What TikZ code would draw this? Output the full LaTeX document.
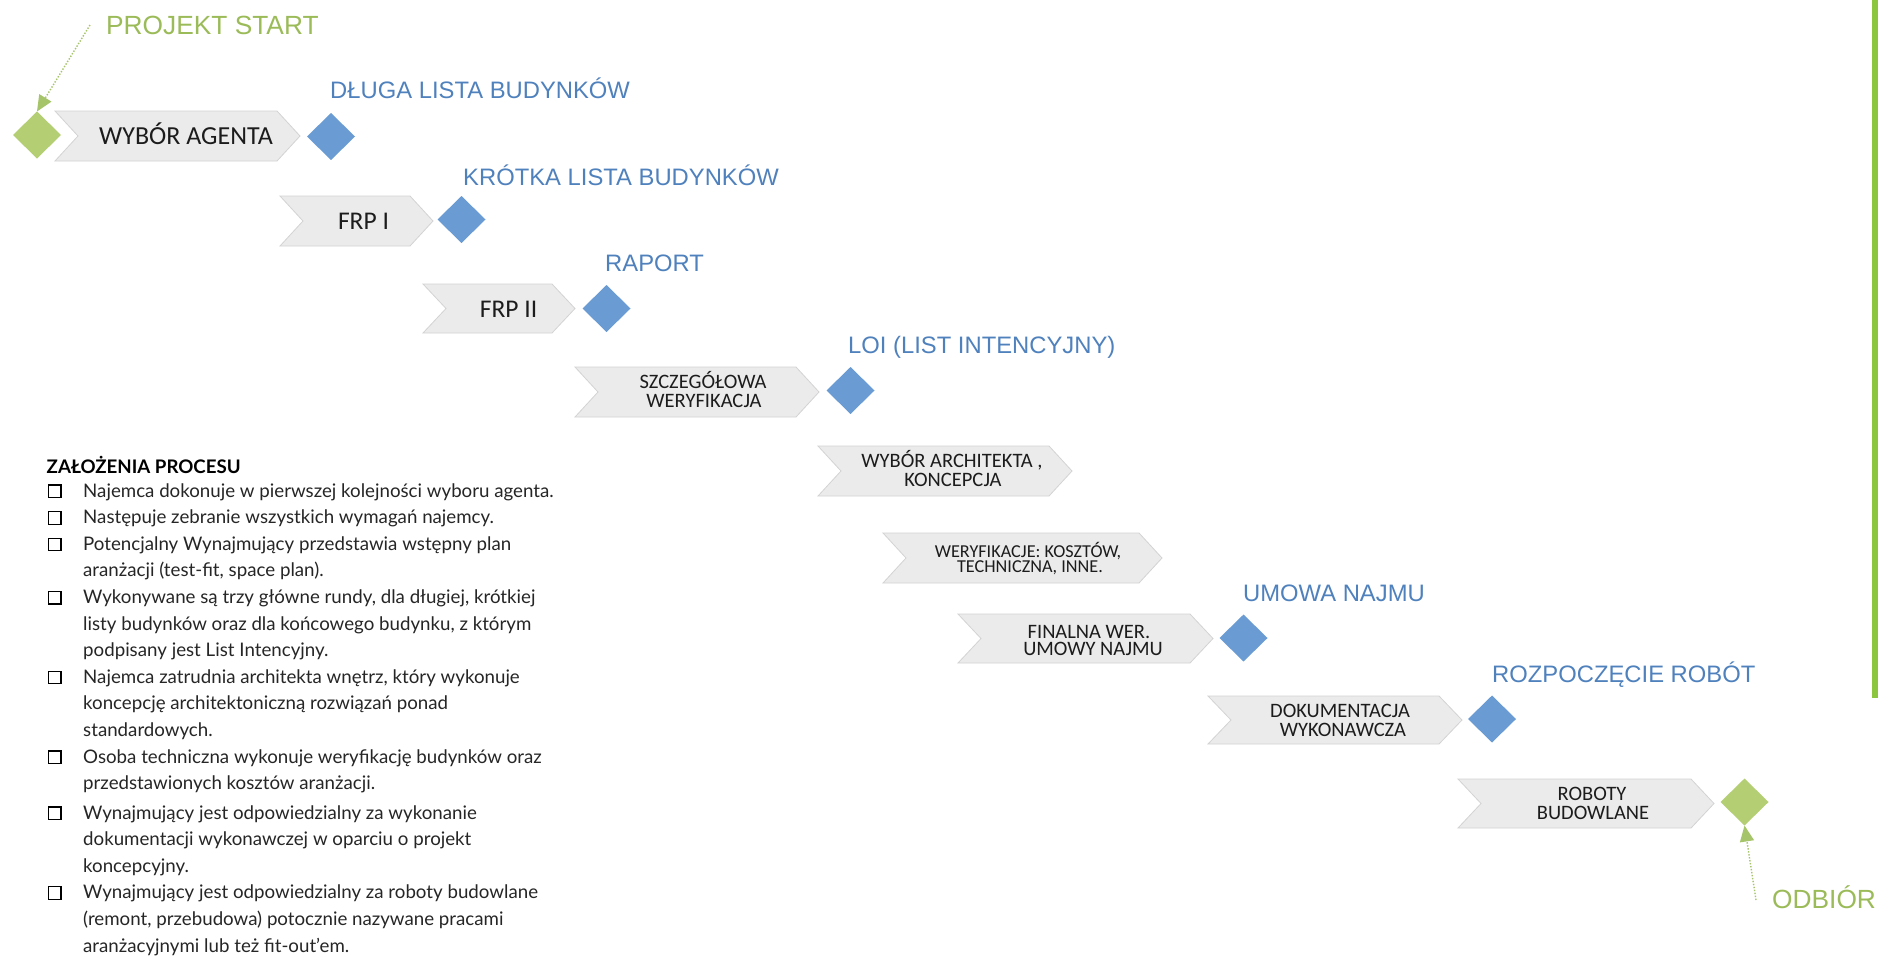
\documentclass[tikz,border=0pt]{standalone}
\usepackage{fontspec}
\usetikzlibrary{arrows.meta,shapes.geometric}
\newfontfamily\carl{Carlito}
\newfontfamily\arl{Liberation Sans}
\newfontfamily\lat{Lato}
\definecolor{chevgray}{HTML}{EBEBEB}
\definecolor{chevline}{HTML}{D3D3D3}
\definecolor{bluetxt}{HTML}{4F81BD}
\definecolor{bluedia}{HTML}{6A9CD3}
\definecolor{greendia}{HTML}{B4CE73}
\definecolor{greentxt}{HTML}{9BBB59}
\definecolor{greenarr}{HTML}{A6C46A}
\definecolor{greenbar}{HTML}{8CC63F}
\definecolor{darktxt}{HTML}{1C1C1C}
\definecolor{listtxt}{HTML}{262626}
\newcommand\chevshape[4]{\path[chev] (#1,#3) -- (#2,#3) -- ({#2+23},{(#3+#4)/2}) -- (#2,#4) -- (#1,#4) -- ({#1+23},{(#3+#4)/2}) -- cycle;}
\begin{document}
\begin{tikzpicture}[x=1pt,y=-1pt,
  chev/.style={fill=chevgray,draw=chevline,line width=0.8pt},
  cbig/.style={anchor=base,inner sep=0,text=darktxt,font=\carl\fontsize{26}{26}\selectfont},
  cmid/.style={anchor=base,inner sep=0,text=darktxt,font=\carl\fontsize{25.5}{25.5}\selectfont},
  csmall/.style={anchor=base,inner sep=0,text=darktxt,font=\carl\fontsize{20.5}{20.5}\selectfont},
  ctiny/.style={anchor=base,inner sep=0,text=darktxt,font=\carl\fontsize{18.2}{18.2}\selectfont},
  bluelab/.style={anchor=base west,inner sep=0,text=bluetxt,font=\arl\fontsize{23.8}{23.8}\selectfont},
  greenlab/.style={anchor=base west,inner sep=0,text=greentxt,font=\arl\fontsize{26.3}{26.3}\selectfont},
  bluedm/.style={diamond,inner sep=0,outer sep=0,minimum width=48pt,minimum height=47pt,fill=bluedia},
  greendm/.style={diamond,inner sep=0,outer sep=0,minimum width=48pt,minimum height=47pt,fill=greendia},
  greenarrow/.style={draw=greenarr,line width=1.4pt,dash pattern=on 1.4pt off 1.6pt,-{Triangle[length=16pt,width=14pt,fill=greenarr]}},
  ltitle/.style={anchor=base west,inner sep=0,text=black,font=\lat\bfseries\fontsize{18.7}{18.7}\selectfont},
  ltxt/.style={anchor=base west,inner sep=0,text=listtxt,font=\lat\fontsize{18.7}{18.7}\selectfont},
  cbox/.style={draw=black,line width=1.2pt}
]
\useasboundingbox (0,0) rectangle (1878,956);
\fill[white] (0,0) rectangle (1878,956);
\fill[greenbar] (1872,0) rectangle (1878,698);

% chevrons
\chevshape{55}{277}{111}{161}
\chevshape{280}{410}{196}{246}
\chevshape{423}{552}{284}{333}
\chevshape{575}{796}{367}{417}
\chevshape{818}{1049}{446}{496}
\chevshape{883}{1139}{533}{583}
\chevshape{958}{1190}{614}{663}
\chevshape{1208}{1439}{696}{744}
\chevshape{1458}{1691}{779}{828}

% chevron texts
\node[cbig] (t1) at (186,144) {WYBÓR AGENTA};
\node[cmid] (t2) at (363.5,229) {FRP I};
\node[cmid] (t3) at (508.5,317) {FRP II};
\node[csmall] (t4a) at (703,388) {SZCZEGÓŁOWA};
\node[csmall] (t4b) at (704,407) {WERYFIKACJA};
\node[csmall] (t5a) at (952,467) {WYBÓR ARCHITEKTA ,};
\node[csmall] (t5b) at (953,486) {KONCEPCJA};
\node[ctiny] (t6a) at (1028,557) {WERYFIKACJE: KOSZTÓW,};
\node[ctiny] (t6b) at (1030,572) {TECHNICZNA, INNE.};
\node[csmall] (t7a) at (1089,638) {FINALNA WER.};
\node[csmall] (t7b) at (1093,655) {UMOWY NAJMU};
\node[csmall] (t8a) at (1340,717) {DOKUMENTACJA};
\node[csmall] (t8b) at (1343,736) {WYKONAWCZA};
\node[csmall] (t9a) at (1592,800) {ROBOTY};
\node[csmall] (t9b) at (1593,819) {BUDOWLANE};

% diamonds
\node[greendm] (d0) at (37,135) {};
\node[bluedm] (d1) at (331,136.5) {};
\node[bluedm] (d2) at (461.5,219.5) {};
\node[bluedm] (d3) at (606.5,308.5) {};
\node[bluedm] (d4) at (850.5,390.5) {};
\node[bluedm] (d7) at (1243.5,638) {};
\node[bluedm] (d8) at (1492,719) {};
\node[greendm] (d9) at (1744.5,802) {};

% milestone labels
\node[greenlab] (lps) at (106,34) {PROJEKT START};
\node[bluelab] (l1) at (330,98.5) {DŁUGA LISTA BUDYNKÓW};
\node[bluelab] (l2) at (463,185) {KRÓTKA LISTA BUDYNKÓW};
\node[bluelab] (l3) at (605,271) {RAPORT};
\node[bluelab] (l4) at (848,353) {LOI (LIST INTENCYJNY)};
\node[bluelab] (l7) at (1243,601) {UMOWA NAJMU};
\node[bluelab] (l8) at (1492,682) {ROZPOCZĘCIE ROBÓT};
\node[greenlab] (lod) at (1772,908) {ODBIÓR};

% arrows
\coordinate (ps) at (90,25);
\coordinate (od) at (1756,900);
\draw[greenarrow] (ps) -- (d0.north);
\draw[greenarrow] (od) -- (d9.south);

% list
\node[ltitle] (ttl) at (46.5,473) {ZAŁOŻENIA PROCESU};
\foreach \yy in {497,523.6,550.2,603.4,683.2,763,819,898.8}
  \draw[cbox] (48.5,\yy-12) rectangle (61,\yy+0.5);
\node[ltxt] (x1) at (83,497) {Najemca dokonuje w pierwszej kolejności wyboru agenta.};
\node[ltxt] (x2) at (83,523.6) {Następuje zebranie wszystkich wymagań najemcy.};
\node[ltxt] (x3) at (83,550.2) {Potencjalny Wynajmujący przedstawia wstępny plan};
\node[ltxt] (x4) at (83,576.8) {aranżacji (test-fit, space plan).};
\node[ltxt] (x5) at (83,603.4) {Wykonywane są trzy główne rundy, dla długiej, krótkiej};
\node[ltxt] (x6) at (83,630) {listy budynków oraz dla końcowego budynku, z którym};
\node[ltxt] (x7) at (83,656.6) {podpisany jest List Intencyjny.};
\node[ltxt] (x8) at (83,683.2) {Najemca zatrudnia architekta wnętrz, który wykonuje};
\node[ltxt] (x9) at (83,709.8) {koncepcję architektoniczną rozwiązań ponad};
\node[ltxt] (x10) at (83,736.4) {standardowych.};
\node[ltxt] (x11) at (83,763) {Osoba techniczna wykonuje weryfikację budynków oraz};
\node[ltxt] (x12) at (83,789.6) {przedstawionych kosztów aranżacji.};
\node[ltxt] (x13) at (83,819) {Wynajmujący jest odpowiedzialny za wykonanie};
\node[ltxt] (x14) at (83,845.6) {dokumentacji wykonawczej w oparciu o projekt};
\node[ltxt] (x15) at (83,872.2) {koncepcyjny.};
\node[ltxt] (x16) at (83,898.8) {Wynajmujący jest odpowiedzialny za roboty budowlane};
\node[ltxt] (x17) at (83,925.4) {(remont, przebudowa) potocznie nazywane pracami};
\node[ltxt] (x18) at (83,952) {aranżacyjnymi lub też fit-out’em.};
\end{tikzpicture}
\end{document}
